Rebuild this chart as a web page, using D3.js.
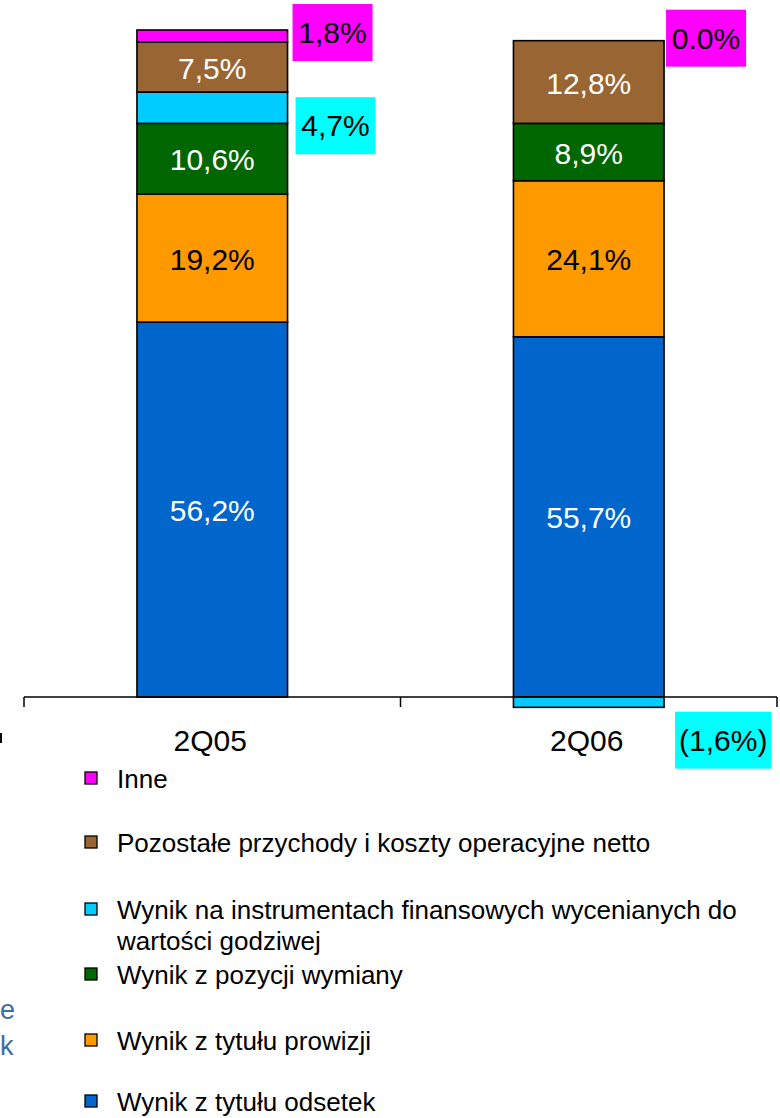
<html>
<script src="https://d3js.org/d3.v7.min.js"></script>
<style>
    body { margin: 0; background: #fff; }
    text { font-family: "Liberation Sans", Arial, sans-serif; }
</style>
<body>
</body>
<script>
    // data: amounts relative to 2Q05 total (=100), labels are the printed shares
    let categories = ["2Q05", "2Q06"];
    let keys = ["odsetek", "prowizji", "wymiany", "instrumenty", "pozostale", "inne"];
    let odsetek = [56.2, 54.0];
    let prowizji = [19.2, 23.4];
    let wymiany = [10.6, 8.6];
    let instrumenty = [4.7, -1.55];
    let pozostale = [7.5, 12.4];
    let inne = [1.8, 0];

    let labOdsetek = ["56,2%", "55,7%"];
    let labProwizji = ["19,2%", "24,1%"];
    let labWymiany = ["10,6%", "8,9%"];
    let labInstrumenty = ["4,7%", "(1,6%)"];
    let labPozostale = ["7,5%", "12,8%"];
    let labInne = ["1,8%", "0.0%"];

    let legendNames = [
        "Inne",
        "Pozostałe przychody i koszty operacyjne netto",
        "Wynik na instrumentach finansowych wycenianych do|wartości godziwej",
        "Wynik z pozycji wymiany",
        "Wynik z tytułu prowizji",
        "Wynik z tytułu odsetek"
    ];
    let legendKeys = ["inne", "pozostale", "instrumenty", "wymiany", "prowizji", "odsetek"];

    let colors = {
        odsetek: "#0066CC", prowizji: "#FF9900", wymiany: "#006600",
        instrumenty: "#00CCFF", pozostale: "#996633", inne: "#FF00FF"
    };
    let textColors = {
        odsetek: "#fff", prowizji: "#000", wymiany: "#fff",
        instrumenty: "#000", pozostale: "#fff", inne: "#000"
    };

    let vals = {odsetek, prowizji, wymiany, instrumenty, pozostale, inne};
    let labs = {
        odsetek: labOdsetek, prowizji: labProwizji, wymiany: labWymiany,
        instrumenty: labInstrumenty, pozostale: labPozostale, inne: labInne
    };

    let table = categories.map((c, i) => {
        let row = {cat: c};
        keys.forEach(k => row[k] = vals[k][i]);
        return row;
    });

    let svg = d3.select("body").append("svg")
        .attr("width", 780)
        .attr("height", 1118);

    let x = d3.scaleBand()
        .domain(categories)
        .range([24, 777])
        .paddingInner(0.6)
        .paddingOuter(0.3);

    let y = d3.scaleLinear()
        .domain([0, 100])
        .range([697, 30]);

    let stack = d3.stack().keys(keys).offset(d3.stackOffsetDiverging);
    let series = stack(table);

    // top of the positive stack per category (zero segments sit there)
    let stackTop = categories.map((c, i) => d3.max(series, s => s[i][1]));

    // bars
    series.forEach(s => {
        svg.append("g").selectAll("rect")
            .data(s)
            .join("rect")
            .attr("x", d => x(d.data.cat))
            .attr("width", x.bandwidth())
            .attr("y", d => y(Math.max(d[0], d[1])))
            .attr("height", d => Math.abs(y(d[0]) - y(d[1])))
            .attr("fill", colors[s.key])
            .attr("stroke", "#000")
            .attr("stroke-width", d => d[0] == d[1] ? 0 : 1.6);
    });

    // axis
    svg.append("line")
        .attr("x1", x.range()[0]).attr("x2", x.range()[1])
        .attr("y1", y(0)).attr("y2", y(0))
        .attr("stroke", "#000").attr("stroke-width", 1.5);
    let tickX = [x.range()[0]].concat(categories.map(c => x(c) - x.step() * x.paddingOuter() + x.step()));
    tickX.forEach(t =>
        svg.append("line")
            .attr("x1", t).attr("x2", t)
            .attr("y1", y(0)).attr("y2", y(0) + 10)
            .attr("stroke", "#000").attr("stroke-width", 1.5)
    );
    categories.forEach(c =>
        svg.append("text")
            .attr("x", x(c) + x.bandwidth() / 2 - 2)
            .attr("y", 740)
            .attr("dy", "0.35em")
            .attr("text-anchor", "middle")
            .attr("font-size", 30)
            .text(c)
    );

    // labels inside segments
    let inside = ["odsetek", "prowizji", "wymiany", "pozostale"];
    series.filter(s => inside.includes(s.key)).forEach(s => {
        s.forEach((d, i) => {
            svg.append("text")
                .attr("x", x(d.data.cat) + x.bandwidth() / 2)
                .attr("y", (y(d[0]) + y(d[1])) / 2 + 1)
                .attr("dy", "0.35em")
                .attr("text-anchor", "middle")
                .attr("font-size", 30)
                .attr("fill", textColors[s.key])
                .text(labs[s.key][i]);
        });
    });

    // callout boxes for small segments
    let callouts = {
        inne: {fill: "#FF00FF", dx: [5, 2], dy: [-3.5, -2.5]},
        instrumenty: {fill: "#00FFFF", dx: [8, 11], dy: [18, 38]}
    };
    series.filter(s => callouts[s.key]).forEach(s => {
        let co = callouts[s.key];
        s.forEach((d, i) => {
            let mid = d[0] == d[1] ? y(stackTop[i]) : (y(d[0]) + y(d[1])) / 2;
            let cy = mid + co.dy[i];
            let left = x(d.data.cat) + x.bandwidth() + co.dx[i];
            let g = svg.append("g");
            let r = g.append("rect").attr("fill", co.fill);
            let t = g.append("text")
                .attr("y", cy)
                .attr("dy", "0.35em")
                .attr("font-size", 30)
                .text(labs[s.key][i]);
            let w = Math.max(80, t.node().getComputedTextLength() + 8);
            t.attr("x", left + w / 2).attr("text-anchor", "middle");
            r.attr("x", left).attr("y", cy - 28.5).attr("width", w).attr("height", 57);
        });
    });

    // legend
    let legY = [779, 843, 910, 975, 1041, 1102];
    legendKeys.forEach((k, i) => {
        svg.append("rect")
            .attr("x", 85).attr("y", legY[i] - 7)
            .attr("width", 12).attr("height", 12)
            .attr("fill", colors[k])
            .attr("stroke", "#000").attr("stroke-width", 1.3);
        legendNames[i].split("|").forEach((line, j) =>
            svg.append("text")
                .attr("x", 117)
                .attr("y", legY[i] + j * 31)
                .attr("dy", "0.35em")
                .attr("font-size", 26)
                .attr("fill", "#000")
                .text(line)
        );
    });

    // cut-off text fragments at left edge
    svg.append("text").attr("x", 0).attr("y", 1019).attr("font-size", 27).attr("fill", "#3B6EA8").text("e");
    svg.append("text").attr("x", 0).attr("y", 1055).attr("font-size", 27).attr("fill", "#3B6EA8").text("k");
    svg.append("rect").attr("x", 0).attr("y", 733).attr("width", 2).attr("height", 10).attr("fill", "#000");
</script>
</html>
